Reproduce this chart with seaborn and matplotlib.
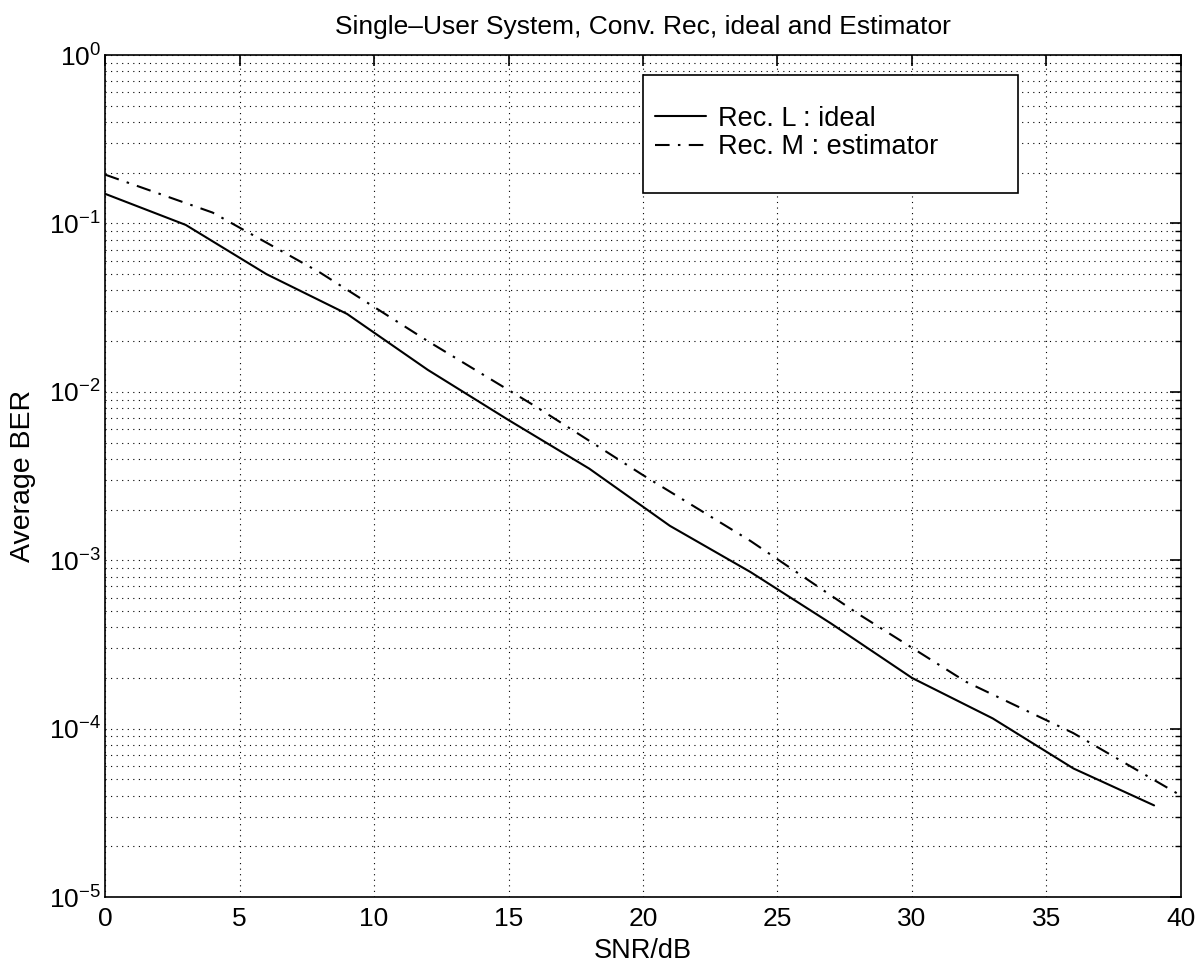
import numpy as np
import pandas as pd
import matplotlib
matplotlib.use("Agg")
import matplotlib.pyplot as plt
from matplotlib.patches import Rectangle
from matplotlib.ticker import LogLocator, FixedLocator, NullFormatter
import seaborn as sns

# BER curves (SNR in dB)
snr_ideal = [0, 3, 6, 9, 12, 15, 18, 21, 24, 27, 30, 33, 36, 39]
ber_ideal = [0.15, 0.098, 0.050, 0.029, 0.0135, 0.0068, 0.0035, 0.0016,
             0.00085, 0.00042, 0.0002, 0.000115, 0.000058, 0.000035]

snr_est = [0, 4, 8, 12, 16, 20, 24, 28, 32, 36, 40]
ber_est = [0.195, 0.116, 0.051, 0.020, 0.0082, 0.0032, 0.0013, 0.00048,
           0.00019, 0.000094, 0.00004]

labels = ["Rec. L : ideal", "Rec. M : estimator"]
x_ticks = [0, 5, 10, 15, 20, 25, 30, 35, 40]

sns.set_style("white")
plt.rcParams["font.family"] = ["Liberation Sans", "DejaVu Sans"]
plt.rcParams["mathtext.fontset"] = "custom"
plt.rcParams["mathtext.rm"] = "Liberation Sans"
plt.rcParams["text.color"] = "black"
plt.rcParams["axes.labelcolor"] = "black"
plt.rcParams["xtick.color"] = "black"
plt.rcParams["ytick.color"] = "black"

df = pd.concat([
    pd.DataFrame({"snr": snr_ideal, "ber": ber_ideal, "curve": labels[0]}),
    pd.DataFrame({"snr": snr_est, "ber": ber_est, "curve": labels[1]}),
])

fig = plt.figure(figsize=(12.03, 9.69), dpi=100)
ax = fig.add_axes([0.0873, 0.0743, 0.8944, 0.8689])

sns.lineplot(data=df, x="snr", y="ber", hue="curve", style="curve",
             palette={labels[0]: "black", labels[1]: "black"},
             dashes={labels[0]: "", labels[1]: (7, 4, 1.2, 4)},
             linewidth=1.5, ax=ax, legend=True, sort=False)

ax.set_yscale("log")
ax.set_xlim(0, 40)
ax.set_ylim(1e-5, 1)
ax.xaxis.set_major_locator(FixedLocator(x_ticks))
ax.yaxis.set_major_locator(LogLocator(base=10, numticks=10))
ax.yaxis.set_minor_locator(LogLocator(base=10, subs=np.arange(2, 10), numticks=20))
ax.yaxis.set_minor_formatter(NullFormatter())

grid_kw = dict(color="black", linestyle=(0, (1, 4)), linewidth=0.8)
ax.grid(True, which="major", axis="both", **grid_kw)
ax.grid(True, which="minor", axis="y", **grid_kw)

ax.tick_params(which="both", direction="in", top=True, right=True,
               labelsize=19, colors="black")
ax.tick_params(which="major", length=8, width=1.2)
ax.tick_params(which="minor", length=4, width=1.0)
ax.tick_params(axis="x", pad=7)
ax.tick_params(axis="y", pad=3)
for s in ax.spines.values():
    s.set_color("black")
    s.set_linewidth(1.2)

ax.set_xlabel("SNR/dB", fontsize=19.5, color="black")
ax.set_ylabel("Average BER", fontsize=20.5, color="black")
ax.xaxis.label.set_va("center")
ax.yaxis.label.set_va("center")
ax.xaxis.set_label_coords(0.5, -0.064)
ax.yaxis.set_label_coords(-0.076, 0.5)
ax.set_title("Single\u2013User System, Conv. Rec, ideal and Estimator",
             fontsize=19, pad=15, color="black")

# legend box drawn as a plain rectangle, entries placed inside it
ax.add_patch(Rectangle((0.5, 0.836), 0.3485, 0.14, transform=ax.transAxes,
                       facecolor="white", edgecolor="black", linewidth=1.2,
                       zorder=4))
leg = ax.legend(loc="upper left", bbox_to_anchor=(0.511, 0.940),
                fontsize=19.5, frameon=False, handlelength=1.9,
                handletextpad=0.45, borderpad=0, labelspacing=0.1,
                borderaxespad=0)
leg.set_zorder(5)
leg.set_title(None)
for t in leg.get_texts():
    t.set_color("black")

fig.savefig("out.png", dpi=100, facecolor="white")
